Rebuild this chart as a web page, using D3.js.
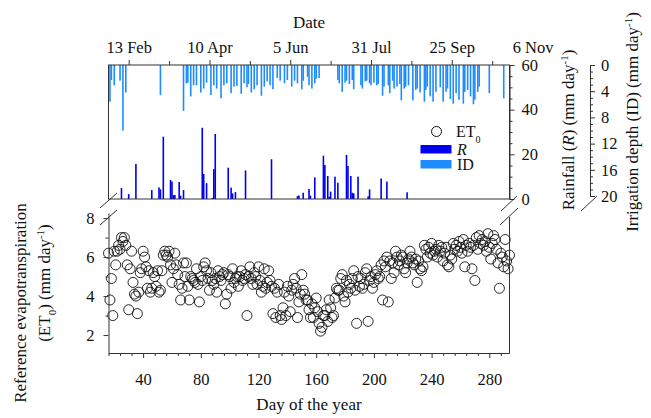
<!DOCTYPE html>
<html>
<head>
<meta charset="utf-8">
<script src="https://cdn.jsdelivr.net/npm/d3@7"></script>
<style>
  body { margin: 0; background: #fff; }
  svg text { font-family: "Liberation Serif", "Times New Roman", serif; fill: #111; }
</style>
</head>
<body>
<svg id="chart" width="651" height="418"></svg>
<script>
// daily ET0 from day 16 to day 294
const et0Start = 16;
const et0 = [
  6.2, 3.8, 4.9, 3.0, 6.3, 5.6, 6.3, 6.6, 6.4, 7.0,
  6.8, 7.0, 6.6, 5.6, 3.3, 5.4, 6.3, 4.7, 4.1, 4.0,
  3.1, 4.2, 5.2, 5.4, 6.3, 6.0, 5.5, 4.4, 5.3, 4.2,
  4.4, 5.2, 5.0, 4.5, 5.3, 4.2, 4.3, 5.3, 6.1, 6.3,
  6.1, 6.0, 6.3, 5.6, 4.7, 5.4, 6.2, 5.6, 5.1, 4.6,
  3.8, 4.4, 5.7, 5.0, 5.7, 4.5, 3.8, 5.0, 4.9, 4.8,
  4.7, 5.4, 4.6, 3.7, 5.0, 4.8, 5.5, 5.7, 5.3, 4.9,
  4.3, 5.2, 4.8, 4.6, 4.9, 4.2, 5.3, 5.0, 4.8, 5.1,
  5.2, 3.6, 4.1, 5.1, 5.0, 4.4, 5.4, 4.7, 4.9, 5.0,
  4.5, 5.0, 5.3, 4.8, 4.9, 5.1, 3.0, 5.0, 5.5, 4.9,
  4.6, 5.2, 5.0, 4.6, 5.5, 4.8, 4.2, 4.5, 5.4, 4.4,
  4.7, 5.3, 4.8, 4.5, 3.1, 4.4, 2.9, 4.2, 4.6, 3.0,
  2.8, 3.4, 4.2, 3.0, 4.5, 4.0, 3.2, 4.3, 4.6, 4.9,
  4.4, 2.9, 3.7, 4.1, 5.1, 4.3, 4.1, 3.8, 3.8, 3.3,
  2.9, 3.6, 2.9, 3.4, 3.9, 3.2, 2.6, 2.2, 2.4, 3.0,
  3.0, 3.3, 2.7, 3.8, 3.4, 2.9, 3.0, 3.9, 4.4, 4.3,
  4.3, 4.9, 5.1, 4.0, 3.7, 4.8, 4.2, 4.6, 4.4, 4.9,
  5.3, 4.3, 2.6, 5.0, 4.5, 4.9, 4.4, 4.6, 5.2, 5.4,
  2.7, 4.8, 5.0, 4.4, 4.7, 5.1, 5.3, 4.9, 5.0, 5.6,
  3.8, 5.8, 5.5, 6.0, 3.7, 5.8, 4.9, 5.7, 5.2, 6.3,
  6.0, 5.6, 5.8, 6.1, 6.0, 5.4, 5.2, 5.7, 5.9, 6.3,
  6.0, 5.7, 5.6, 5.9, 4.7, 5.8, 5.4, 5.3, 5.5, 6.6,
  6.4, 6.0, 6.5, 6.2, 6.7, 6.1, 6.3, 6.4, 6.0, 6.6,
  6.3, 6.5, 5.8, 6.2, 6.5, 5.6, 5.5, 6.1, 5.9, 6.7,
  6.4, 6.6, 6.3, 6.8, 6.5, 6.2, 6.9, 5.5, 6.6, 6.3,
  6.7, 6.5, 5.4, 6.6, 4.8, 7.0, 6.4, 7.1, 6.7, 6.9,
  6.6, 6.8, 6.3, 7.2, 6.5, 5.9, 6.7, 7.1, 6.9, 6.4,
  5.7, 4.4, 6.2, 6.0, 5.5, 6.9, 5.8, 5.4, 6.1
];

const rainDays = [25, 30, 35, 46, 51, 52, 54, 59, 60, 61, 62, 65, 66, 68, 81, 82, 84, 88, 89, 90,
  99, 101, 102, 104, 111, 129, 147, 148, 151, 155, 156, 159, 165, 166, 168, 169, 170, 173, 175,
  181, 182, 184, 185, 186, 189, 196, 197, 205, 209, 223];
const rainValues = [4.9, 2.2, 15.7, 4.0, 5.2, 4.3, 27.9, 8.5, 7.8, 1.7, 1.8, 7.6, 1.5, 4.0, 31.9, 11.2, 7.1, 0.5, 13.4, 29.1,
  14.0, 5.1, 2.5, 3.1, 12.8, 17.8, 1.3, 1.6, 2.8, 4.5, 1.5, 9.7, 19.4, 15.2, 10.3, 1.0, 3.3, 10.0, 7.3,
  19.7, 14.8, 10.3, 2.8, 2.5, 10.0, 1.2, 4.3, 9.2, 7.8, 3.0];

const irrDays = [17, 18, 20, 24, 26, 28, 52, 68,
  70, 71, 73, 75, 77, 80, 82, 84, 87, 89, 91, 94, 96, 98, 101, 103, 105, 108, 110, 112, 113, 115,
  117, 119, 122, 124, 126, 128, 130, 133, 135, 138, 140, 143, 145, 147, 150, 151, 154, 155, 157, 159, 160, 162,
  175, 176, 178, 180, 181, 183, 185, 186, 191, 192, 194, 195, 197, 198, 200, 202, 203,
  206, 207, 210, 211, 213, 214, 216, 218, 219, 221, 222, 224, 227, 229, 230, 232,
  235, 236, 237, 239, 241, 243, 246, 248, 250, 251, 253,
  255, 257, 259, 262, 263, 265, 267, 269, 270, 272, 273, 280, 290];
const irrValues = [5.6, 2.3, 3.1, 2.4, 10.0, 4.2, 4.6, 7.0,
  2.8, 2.7, 4.8, 3.1, 3.1, 4.2, 3.6, 2.7, 4.6, 3.1, 3.6, 5.1, 3.1, 2.8, 4.3, 3.3, 3.2, 4.4, 2.8, 3.4, 2.9,
  4.2, 3.7, 3.1, 4.7, 3.3, 2.5, 3.1, 3.7, 2.0, 2.4, 2.8, 2.3, 3.3, 2.4, 2.8, 3.7, 2.4, 1.8, 3.1, 3.6, 2.8, 2.1, 2.0,
  2.3, 2.8, 4.1, 2.7, 2.4, 2.9, 2.3, 3.7, 3.1, 3.6, 2.5, 2.4, 2.8, 3.1, 2.7, 3.1, 2.9,
  4.7, 3.3, 3.1, 4.3, 2.4, 3.6, 3.3, 2.9, 5.4, 3.6, 3.3, 3.1, 5.4, 3.8, 3.6, 4.2,
  5.6, 3.8, 3.3, 4.8, 5.6, 4.1, 3.4, 5.6, 4.1, 3.6, 5.2,
  5.9, 4.3, 5.3, 5.9, 4.1, 3.8, 4.8, 6.0, 5.3, 4.1, 3.3, 4.3, 5.1];

const dayTicks = [40, 80, 120, 160, 200, 240, 280];
const dateTickDays = [30, 86, 142, 198, 254, 310];
const dateTickLabels = ["13 Feb", "10 Apr", "5 Jun", "31 Jul", "25 Sep", "6 Nov"];
const rainTicks = [0, 20, 40, 60];
const irrTicks = [0, 4, 8, 12, 16, 20];
const etTicks = [2, 4, 6, 8];

const svg = d3.select("#chart");
const axisColor = "#333";

const x = d3.scaleLinear().domain([16, 294]).range([108.5, 509.5]);
const yRain = d3.scaleLinear().domain([0, 60]).range([199, 65]);
const yIrr = d3.scaleLinear().domain([0, 20]).range([65, 196]);
const yEt = d3.scaleLinear().domain([1.08, 8.26]).range([353, 213]);

const [x0, x1] = x.range();

function styleAxis(g, size) {
  g.attr("font-family", null).attr("font-size", null);
  g.selectAll("path, line").attr("stroke", axisColor);
  g.selectAll("text").style("font-size", (size || 16.5) + "px").attr("fill", "#111");
}

// ---- top panel: rainfall and irrigation bars
svg.append("g").selectAll("rect")
  .data(d3.zip(irrDays, irrValues))
  .join("rect")
  .attr("x", d => x(d[0]) - 0.8)
  .attr("width", 1.6)
  .attr("y", yIrr(0))
  .attr("height", d => yIrr(d[1]) - yIrr(0))
  .attr("fill", "#1e8cff");

svg.append("g").selectAll("rect")
  .data(d3.zip(rainDays, rainValues))
  .join("rect")
  .attr("x", d => x(d[0]) - 0.8)
  .attr("width", 1.6)
  .attr("y", d => yRain(d[1]))
  .attr("height", d => yRain(0) - yRain(d[1]))
  .attr("fill", "#0000f0");

svg.append("rect")
  .attr("x", x0).attr("y", yRain(60))
  .attr("width", x1 - x0).attr("height", yRain(0) - yRain(60))
  .attr("fill", "none").attr("stroke", axisColor);

// date axis on top
const dateAxis = svg.append("g")
  .attr("transform", `translate(0,${yRain(60)})`)
  .call(d3.axisTop(x).tickValues(dateTickDays).tickSize(5).tickPadding(7)
    .tickFormat((d, i) => dateTickLabels[i]));
dateAxis.select(".domain").remove();
dateAxis.selectAll(".tick").filter(d => d > 294).select("line").remove();
styleAxis(dateAxis);

const dateMinor = svg.append("g")
  .attr("transform", `translate(0,${yRain(60)})`)
  .call(d3.axisTop(x).tickValues(dateTickDays.map(d => d - 28).filter(d => d >= 16)).tickSize(4).tickFormat(""));
dateMinor.select(".domain").remove();
styleAxis(dateMinor);

svg.append("text").attr("x", (x0 + x1) / 2).attr("y", 28)
  .attr("text-anchor", "middle").style("font-size", "17px").text("Date");

// rainfall axis
const rainAxis = svg.append("g")
  .attr("transform", `translate(${x1},0)`)
  .call(d3.axisRight(yRain).tickValues(rainTicks).tickSize(5).tickPadding(7).tickSizeOuter(0));
styleAxis(rainAxis);
const rainMinor = svg.append("g")
  .attr("transform", `translate(${x1},0)`)
  .call(d3.axisRight(yRain).tickValues(d3.range(0, 61, 5).filter(v => v % 20)).tickSize(3).tickFormat(""));
rainMinor.select(".domain").remove();
styleAxis(rainMinor);

// irrigation axis
const irrX = 590;
const irrAxis = svg.append("g")
  .attr("transform", `translate(${irrX},0)`)
  .call(d3.axisRight(yIrr).tickValues(irrTicks).tickSize(5).tickPadding(6).tickSizeOuter(0));
styleAxis(irrAxis);
const irrMinor = svg.append("g")
  .attr("transform", `translate(${irrX},0)`)
  .call(d3.axisRight(yIrr).tickValues(d3.range(0, 21, 1).filter(v => v % 4)).tickSize(3).tickFormat(""));
irrMinor.select(".domain").remove();
styleAxis(irrMinor);

// ---- bottom panel: ET0 scatter
svg.append("g").selectAll("circle")
  .data(et0)
  .join("circle")
  .attr("cx", (d, i) => x(et0Start + i))
  .attr("cy", d => yEt(d))
  .attr("r", 5)
  .attr("fill", "none")
  .attr("stroke", "#111")
  .attr("stroke-width", 0.9);

const bottomAxis = svg.append("g")
  .attr("transform", `translate(0,${yEt.range()[0]})`)
  .call(d3.axisBottom(x).tickValues(dayTicks).tickSize(5).tickPadding(15).tickSizeOuter(0));
styleAxis(bottomAxis);
const bottomMinor = svg.append("g")
  .attr("transform", `translate(0,${yEt.range()[0]})`)
  .call(d3.axisBottom(x).tickValues(d3.range(16, 295, 8).filter(v => v % 40)).tickSize(3).tickFormat(""));
bottomMinor.select(".domain").remove();
styleAxis(bottomMinor);

const etAxis = svg.append("g")
  .attr("transform", `translate(${x0},0)`)
  .call(d3.axisLeft(yEt).tickValues(etTicks).tickSize(5).tickPadding(9).tickSizeOuter(0));
styleAxis(etAxis);
const etMinor = svg.append("g")
  .attr("transform", `translate(${x0},0)`)
  .call(d3.axisLeft(yEt).tickValues([3, 5, 7]).tickSize(3).tickFormat(""));
etMinor.select(".domain").remove();
styleAxis(etMinor);

svg.append("line")
  .attr("x1", x1).attr("x2", x1)
  .attr("y1", 217).attr("y2", yEt.range()[0])
  .attr("stroke", axisColor);

// axis break marks
const breaks = [
  [100, 208, 117, 193], [100, 225, 117, 210],
  [501, 211, 517, 196], [500, 225, 518, 208],
  [581, 211, 597, 196]
];
svg.append("g").selectAll("line")
  .data(breaks)
  .join("line")
  .attr("x1", d => d[0]).attr("y1", d => d[1])
  .attr("x2", d => d[2]).attr("y2", d => d[3])
  .attr("stroke", axisColor);

svg.append("text").attr("x", (x0 + x1) / 2).attr("y", 410)
  .attr("text-anchor", "middle").style("font-size", "17px").text("Day of the year");

// left title
const leftTitle = svg.append("g").style("font-size", "17px");
leftTitle.append("text")
  .attr("transform", "translate(26,303) rotate(-90)")
  .attr("text-anchor", "middle")
  .text("Reference evapotranspiration");
const lt2 = leftTitle.append("text")
  .attr("transform", "translate(50,283) rotate(-90)")
  .attr("text-anchor", "middle");
lt2.append("tspan").text("(ET");
lt2.append("tspan").attr("baseline-shift", "sub").style("font-size", "11px").text("0");
lt2.append("tspan").text(") (mm day");
lt2.append("tspan").attr("baseline-shift", "super").style("font-size", "11px").text("-1");
lt2.append("tspan").text(")");

// right titles
const rt1 = svg.append("text")
  .attr("transform", "translate(574,130) rotate(-90)")
  .attr("text-anchor", "middle").style("font-size", "17px");
rt1.append("tspan").text("Rainfall (");
rt1.append("tspan").style("font-style", "italic").text("R");
rt1.append("tspan").text(") (mm day");
rt1.append("tspan").attr("baseline-shift", "super").style("font-size", "11px").text("-1");
rt1.append("tspan").text(")");

const rt2 = svg.append("text")
  .attr("transform", "translate(638,122) rotate(-90)")
  .attr("text-anchor", "middle").style("font-size", "17px");
rt2.append("tspan").text("Irrigation depth (ID) (mm day");
rt2.append("tspan").attr("baseline-shift", "super").style("font-size", "11px").text("-1");
rt2.append("tspan").text(")");

// legend
const legend = svg.append("g").style("font-size", "16px");
legend.append("circle").attr("cx", 436.5).attr("cy", 131.5).attr("r", 5)
  .attr("fill", "none").attr("stroke", "#111");
const lgEt = legend.append("text").attr("x", 456).attr("y", 137);
lgEt.append("tspan").text("ET");
lgEt.append("tspan").attr("baseline-shift", "sub").style("font-size", "10px").text("0");
legend.append("rect").attr("x", 420.5).attr("y", 145).attr("width", 31).attr("height", 8.5).attr("fill", "#0000f0");
legend.append("text").attr("x", 457).attr("y", 154.5).style("font-style", "italic").text("R");
legend.append("rect").attr("x", 420.5).attr("y", 160).attr("width", 31).attr("height", 8.5).attr("fill", "#1e8cff");
legend.append("text").attr("x", 457).attr("y", 170).text("ID");
</script>
</body>
</html>
